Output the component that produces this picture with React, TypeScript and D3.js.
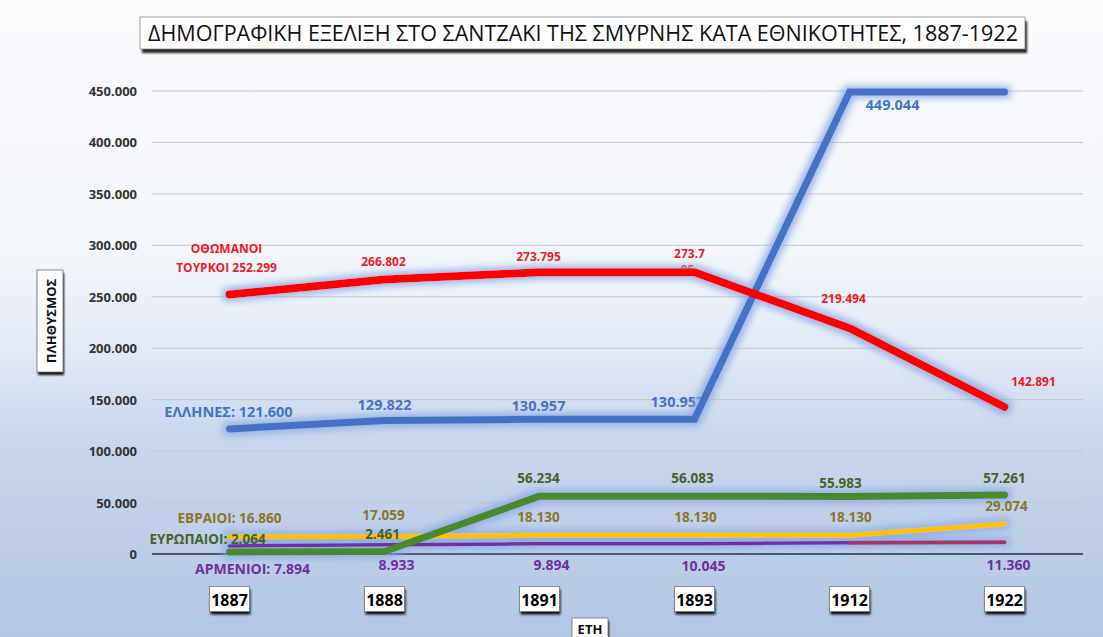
import React from 'react';
import * as d3 from 'd3';

const years = ['1887', '1888', '1891', '1893', '1912', '1922'];
const ottomans = [252299, 266802, 273795, 273795, 219494, 142891];
const greeks = [121600, 129822, 130957, 130957, 449044, 449044];
const europeans = [2064, 2461, 56234, 56083, 55983, 57261];
const jews = [16860, 17059, 18130, 18130, 18130, 29074];
const armenians = [7894, 8933, 9894, 10045, 11000, 11360];
const yTicks = [0, 50000, 100000, 150000, 200000, 250000, 300000, 350000, 400000, 450000];

const W = 1103;
const H = 637;
const FONT = "'Open Sans', 'Noto Sans', sans-serif";

const fmt = d3.formatLocale({ decimal: ',', thousands: '.', grouping: [3], currency: ['', ''] }).format(',');

const x = d3.scalePoint().domain(years).range([152, 1082]).padding(0.5);
const y = d3.scaleLinear().domain([0, 450000]).range([554, 91]);

const line = d3.line<number>()
  .x((d, i) => x(years[i]) as number)
  .y(d => y(d));

// label offsets relative to the data point (dx, dy)
const redOff = [[-3, 0], [-1, -18], [-1, -16], [-5, -19], [-6, -30], [29, -25]];
const blueOff = [[-1, -17], [0, -16], [-1, -14], [-17, -18], [43, 13], null];
const greenOff = [[-22, -13], [-2, -17], [-1, -18], [-2, -18], [-9, -13], [0, -17]];
const yellowOff = [[0, -19], [-1, -21], [-1, -18], [1, -18], [1, -18], [2, -18]];
const purpleOff = [[23, 23], [12, 20], [12, 21], [9, 22], null, [4, 22]];

const px = (i: number) => x(years[i]) as number;

function Box({ cx, cy, w, h, children }: any) {
  return (
    <g>
      <rect x={cx - w / 2 + 1} y={cy - h / 2 + 3} width={w} height={h} fill="#111" filter="url(#boxshadow)" />
      <rect x={cx - w / 2} y={cy - h / 2} width={w} height={h} fill="#fff" stroke="#777" strokeWidth={0.8} />
      {children}
    </g>
  );
}

function Labels({ values, offs, color, size, first }: any) {
  return (
    <g fill={color} fontFamily={FONT} fontWeight="bold" fontSize={size} textAnchor="middle" dominantBaseline="central">
      {values.map((v: number, i: number) => {
        const o = offs[i];
        if (!o) return null;
        const t = i === 0 && first ? first + fmt(v) : fmt(v);
        return <text key={i} x={px(i) + o[0]} y={y(v) + o[1]}>{t}</text>;
      })}
    </g>
  );
}

export default function App() {
  const red = ottomans;
  return (
    <svg width={W} height={H} style={{ position: 'absolute', left: 0, top: 0 }}>
      <defs>
        <linearGradient id="bg" x1="0" y1="0" x2="0" y2="1">
          <stop offset="0" stopColor="#fafbfd" />
          <stop offset="0.4" stopColor="#f3f6fa" />
          <stop offset="0.56" stopColor="#e1e8f4" />
          <stop offset="0.68" stopColor="#cad7ed" />
          <stop offset="1" stopColor="#b3c6e6" />
        </linearGradient>
        <filter id="glow" filterUnits="userSpaceOnUse" x="0" y="0" width={W} height={H}>
          <feMorphology in="SourceAlpha" operator="dilate" radius="2.5" result="d" />
          <feGaussianBlur in="d" stdDeviation="3.5" result="b" />
          <feFlood floodColor="#86a8e4" floodOpacity="0.8" />
          <feComposite in2="b" operator="in" result="g" />
          <feMerge>
            <feMergeNode in="g" />
            <feMergeNode in="SourceGraphic" />
          </feMerge>
        </filter>
        <filter id="boxshadow" x="-20%" y="-20%" width="140%" height="150%">
          <feGaussianBlur stdDeviation="1.2" />
        </filter>
      </defs>

      <rect x={0} y={0} width={W} height={H} fill="url(#bg)" />

      {/* title */}
      <rect x={142} y={21} width={885} height={32} fill="#222" filter="url(#boxshadow)" />
      <rect x={140} y={17} width={885} height={32} fill="#fff" stroke="#888" strokeWidth={0.8} />
      <text x={148} y={41} fontFamily={FONT} fontSize={21} fill="#111" textLength={870} lengthAdjust="spacingAndGlyphs">
        ΔΗΜΟΓΡΑΦΙΚΗ ΕΞΕΛΙΞΗ ΣΤΟ ΣΑΝΤΖΑΚΙ ΤΗΣ ΣΜΥΡΝΗΣ ΚΑΤΑ ΕΘΝΙΚΟΤΗΤΕΣ, 1887-1922
      </text>

      {/* grid + y ticks */}
      <g>
        {yTicks.map(t => (
          <g key={t}>
            {t > 0 && <line x1={152} x2={1083} y1={y(t)} y2={y(t)} stroke="#c4c6ca" strokeWidth={1} />}
            <text x={137} y={y(t)} textAnchor="end" dominantBaseline="central" fontFamily={FONT} fontWeight="bold" fontSize={13} fill="#333">
              {fmt(t)}
            </text>
          </g>
        ))}
        <line x1={152} x2={1083} y1={y(0)} y2={y(0)} stroke="#1f2d4a" strokeWidth={1.5} />
      </g>

      {/* y axis title */}
      <Box cx={50} cy={321} w={26} h={102}>
        <text transform="translate(51,321) rotate(-90)" textAnchor="middle" dominantBaseline="central" fontFamily={FONT} fontWeight="bold" fontSize={13} fill="#111">
          ΠΛΗΘΥΣΜΟΣ
        </text>
      </Box>

      {/* labels under lines */}
      <g fill="#ee1c25" fontFamily={FONT} fontWeight="bold" fontSize={12} textAnchor="middle" dominantBaseline="central">
        <text x={px(0) + redOff[0][0]} y={y(red[0]) - 46}>ΟΘΩΜΑΝΟΙ</text>
        <text x={px(0) + redOff[0][0]} y={y(red[0]) - 27}>ΤΟΥΡΚΟΙ {fmt(red[0])}</text>
        {[1, 2, 4, 5].map(i => (
          <text key={i} x={px(i) + redOff[i][0]} y={y(red[i]) + redOff[i][1]}>{fmt(red[i])}</text>
        ))}
        <text x={px(3) + redOff[3][0]} y={y(red[3]) + redOff[3][1]}>{fmt(red[3]).slice(0, 5)}</text>
        <text x={px(3) + redOff[3][0] - 2} y={y(red[3]) - 3}>{fmt(red[3]).slice(5)}</text>
      </g>
      <Labels values={greeks} offs={blueOff} color="#4472c4" size={14.5} first="ΕΛΛΗΝΕΣ: " />

      {/* lines */}
      <g fill="none" strokeLinejoin="round" strokeLinecap="round" filter="url(#glow)">
        <path d={line(greeks) as string} stroke="#4472c4" strokeWidth={7} strokeLinejoin="miter" />
        <path d={line(jews) as string} stroke="#ffc000" strokeWidth={5} />
        <path d={line(armenians.slice(0, 5)) as string} stroke="#7030a0" strokeWidth={3.5} />
        <path d={`M${px(4)},${y(armenians[4])}L${px(5)},${y(armenians[5])}`} stroke="#a8336a" strokeWidth={4} />
        <path d={line(europeans) as string} stroke="#4c8a2c" strokeWidth={7} />
        <path d={line(ottomans) as string} stroke="#ff0000" strokeWidth={8} />
      </g>

      {/* labels over lines */}
      <Labels values={europeans} offs={greenOff} color="#436425" size={13.5} first="ΕΥΡΩΠΑΙΟΙ: " />
      <Labels values={jews} offs={yellowOff} color="#8a7628" size={13.5} first="ΕΒΡΑΙΟΙ: " />
      <Labels values={armenians} offs={purpleOff} color="#7030a0" size={14} first="ΑΡΜΕΝΙΟΙ: " />

      {/* x axis category boxes */}
      {years.map(yr => (
        <Box key={yr} cx={x(yr) as number} cy={599} w={40} h={25}>
          <text x={x(yr) as number} y={600} textAnchor="middle" dominantBaseline="central" fontFamily={FONT} fontWeight="bold" fontSize={16} fill="#000">
            {yr}
          </text>
        </Box>
      ))}

      <Box cx={590} cy={629} w={36} h={22}>
        <text x={590} y={629} textAnchor="middle" dominantBaseline="central" fontFamily={FONT} fontWeight="bold" fontSize={13} fill="#111">
          ΕΤΗ
        </text>
      </Box>
    </svg>
  );
}
